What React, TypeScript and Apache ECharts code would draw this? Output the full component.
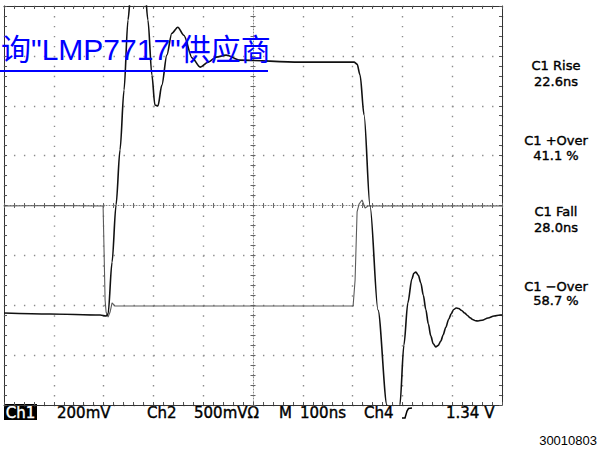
import React, { useEffect, useRef } from 'react';
import * as echarts from 'echarts';

// Time base: 100 ns / div, 10 divisions
const timeMin = 0;
const timeMax = 1000;
const timeStep = 100;

// Ch1 (output, 200 mV/div), position relative to screen centre, mV
const ch1Time = [0, 92, 193, 205, 209, 217, 225, 233, 241, 249, 255, 263, 273, 281, 289, 297, 303, 309, 317, 327, 337, 349, 361, 378, 394, 410, 426, 446, 474, 594, 703, 709, 715, 723, 735, 751, 769, 779, 787, 795, 803, 811, 819, 823, 827, 832, 837, 842, 847, 852, 857, 862, 867, 872, 877, 882, 887, 893, 898, 903, 908, 913, 919, 925, 930, 936, 941, 947, 952, 960, 972, 984, 996, 1000];
const ch1Values = [-431, -435, -439, -443, -435, -227, 2, 223, 463, 744, 864, 976, 992, 924, 744, 523, 403, 399, 483, 603, 691, 715, 683, 591, 555, 575, 595, 603, 583, 575, 575, 567, 523, 363, -2, -419, -800, -1000, -1028, -800, -560, -390, -295, -272, -267, -280, -311, -360, -417, -474, -523, -555, -567, -561, -544, -518, -489, -456, -434, -417, -411, -413, -421, -431, -440, -450, -457, -462, -463, -460, -451, -443, -439, -439];

// Ch2 (input, 500 mV/div), mV
const ch2Time = [0, 100, 193, 199, 203, 205, 209, 213, 217, 223, 394, 701, 705, 709, 713, 719, 725, 731, 850, 1000];
const ch2Values = [-5, 0, -5, -5, -947, -1068, -1118, -1068, -977, -1008, -1008, -1008, -747, -65, 15, 55, -25, -5, -5, -5];

// Measurement readouts
const measNames = ['C1 Rise', 'C1 +Over', 'C1 Fall', 'C1 \u2212Over'];
const measValues = ['22.6ns', '41.1 %', '28.0ns', '58.7 %'];

// Status bar
const statusTexts = ['200mV', 'Ch2', '500mV\u03a9', 'M', '100ns', 'Ch4', '1.34 V'];
const statusX = [57, 147, 194, 279, 300, 364, 446];

const linkText = '\u8be2"LMP7717"\u4f9b\u5e94\u5546';
const figureId = '30010803';

export default function App() {
  const ref = useRef<HTMLDivElement>(null);

  useEffect(() => {
    if (!ref.current) return;
    const chart = echarts.init(ref.current, null, { renderer: 'svg' });

    const frameLine = { show: true, onZero: false, lineStyle: { color: '#333', width: 1 } };
    const frameTick = { show: true, inside: true, length: 3, lineStyle: { color: '#555', width: 1 } };
    const frameMinor = { show: true, splitNumber: 5, length: 3, lineStyle: { color: '#555', width: 1 } };
    const noLabel = { show: false };

    const centreLine = { show: true, onZero: false, lineStyle: { color: '#888', width: 1, type: [1, 2] } };
    const centreTick = (inside: boolean) => ({ show: true, inside, length: 2.5, lineStyle: { color: '#666', width: 1 } });
    const centreMinor = { show: true, splitNumber: 5, length: 2.5, lineStyle: { color: '#666', width: 1 } };

    const xBase = { type: 'value', min: timeMin, max: timeMax, interval: timeStep, axisLabel: noLabel };
    const yBase1 = { type: 'value', min: -800, max: 800, interval: 200, axisLabel: noLabel };
    const yBase2 = { type: 'value', min: -2000, max: 2000, interval: 500, axisLabel: noLabel };

    const textFont = '"DejaVu Sans", sans-serif';
    const graphic: any[] = [];
    // link overlay
    graphic.push({
      type: 'text', x: 1, y: 49, z: 100,
      style: {
        text: linkText, fill: '#0000ff', fontSize: 30,
        fontFamily: '"Liberation Sans", "Noto Sans CJK SC", sans-serif',
        align: 'left', textAlign: 'left', verticalAlign: 'middle', textVerticalAlign: 'middle',
      },
    });
    graphic.push({ type: 'rect', z: 100, shape: { x: 0, y: 70, width: 268, height: 2 }, style: { fill: '#0000ff' } });

    // measurement readouts
    const nameY = [65, 140, 211, 286];
    const valY = [81, 155, 227, 300];
    measNames.forEach((n, i) => {
      graphic.push({
        type: 'text', x: 556, y: nameY[i],
        style: { text: n, fill: '#000', fontSize: 13, fontFamily: textFont, align: 'center', textAlign: 'center', verticalAlign: 'middle', textVerticalAlign: 'middle', stroke: '#000', lineWidth: 0.4 },
      });
      graphic.push({
        type: 'text', x: 556, y: valY[i],
        style: { text: measValues[i], fill: '#000', fontSize: 13, fontFamily: textFont, align: 'center', textAlign: 'center', verticalAlign: 'middle', textVerticalAlign: 'middle', stroke: '#000', lineWidth: 0.4 },
      });
    });

    // status bar
    graphic.push({ type: 'rect', shape: { x: 4, y: 404, width: 33, height: 16 }, style: { fill: '#000' } });
    graphic.push({
      type: 'text', x: 20.5, y: 413,
      style: { text: 'Ch1', fill: '#fff', fontSize: 15, fontFamily: textFont, align: 'center', textAlign: 'center', verticalAlign: 'middle', textVerticalAlign: 'middle', stroke: '#fff', lineWidth: 0.4 },
    });
    statusTexts.forEach((t, i) => {
      graphic.push({
        type: 'text', x: statusX[i], y: 413,
        style: { text: t, fill: '#000', fontSize: 15, fontFamily: textFont, align: 'left', textAlign: 'left', verticalAlign: 'middle', textVerticalAlign: 'middle', stroke: '#000', lineWidth: 0.4 },
      });
    });
    graphic.push({
      type: 'polyline',
      shape: { points: [[402, 418], [405, 418], [407, 411], [408.5, 408.5], [412, 408]] },
      style: { stroke: '#000', lineWidth: 1.5, fill: null },
    });
    graphic.push({
      type: 'text', x: 597, y: 440,
      style: { text: figureId, fill: '#000', fontSize: 13, fontFamily: '"Liberation Sans", Arial, sans-serif', align: 'right', textAlign: 'right', verticalAlign: 'middle', textVerticalAlign: 'middle' },
    });

    const option: any = {
      animation: false,
      backgroundColor: '#ffffff',
      grid: { left: 4, top: 6, width: 498, height: 399, containLabel: false },
      xAxis: [
        { ...xBase, position: 'bottom', axisLine: frameLine, axisTick: frameTick, minorTick: frameMinor,
          splitLine: { show: true, lineStyle: { color: '#8c8c8c', width: 1.4, type: [1.4, 8.575] } } },
        { ...xBase, position: 'top', axisLine: frameLine, axisTick: frameTick, minorTick: frameMinor, splitLine: { show: false } },
        { ...xBase, position: 'bottom', offset: -199.5, axisLine: centreLine, axisTick: centreTick(true), minorTick: centreMinor, splitLine: { show: false } },
        { ...xBase, position: 'bottom', offset: -199.5, axisLine: { show: false }, axisTick: centreTick(false), minorTick: centreMinor, splitLine: { show: false } },
      ],
      yAxis: [
        { ...yBase1, position: 'left', axisLine: frameLine, axisTick: frameTick, minorTick: frameMinor,
          splitLine: { show: true, lineStyle: { color: '#8c8c8c', width: 1.4, type: [1.4, 8.56] } } },
        { ...yBase2, position: 'right', axisLine: frameLine, axisTick: frameTick, minorTick: frameMinor, splitLine: { show: false } },
        { ...yBase1, position: 'left', offset: -249, axisLine: centreLine, axisTick: centreTick(true), minorTick: centreMinor, splitLine: { show: false } },
        { ...yBase1, position: 'left', offset: -249, axisLine: { show: false }, axisTick: centreTick(false), minorTick: centreMinor, splitLine: { show: false } },
      ],
      series: [
        {
          name: 'Ch2', type: 'line', xAxisIndex: 0, yAxisIndex: 1, showSymbol: false, clip: true, z: 3,
          lineStyle: { color: '#5a5a5a', width: 1.1 },
          data: ch2Time.map((t, i) => [t, ch2Values[i]]),
        },
        {
          name: 'Ch1', type: 'line', xAxisIndex: 0, yAxisIndex: 0, showSymbol: false, clip: true, z: 4,
          smooth: 0.3, smoothMonotone: 'x',
          lineStyle: { color: '#111', width: 1.6 },
          data: ch1Time.map((t, i) => [t, ch1Values[i]]),
        },
      ],
      graphic,
    };

    chart.setOption(option);
    return () => chart.dispose();
  }, []);

  return (
    <div
      ref={ref}
      style={{ position: 'fixed', left: 0, top: 0, width: 600, height: 452, background: '#fff' }}
    />
  );
}
